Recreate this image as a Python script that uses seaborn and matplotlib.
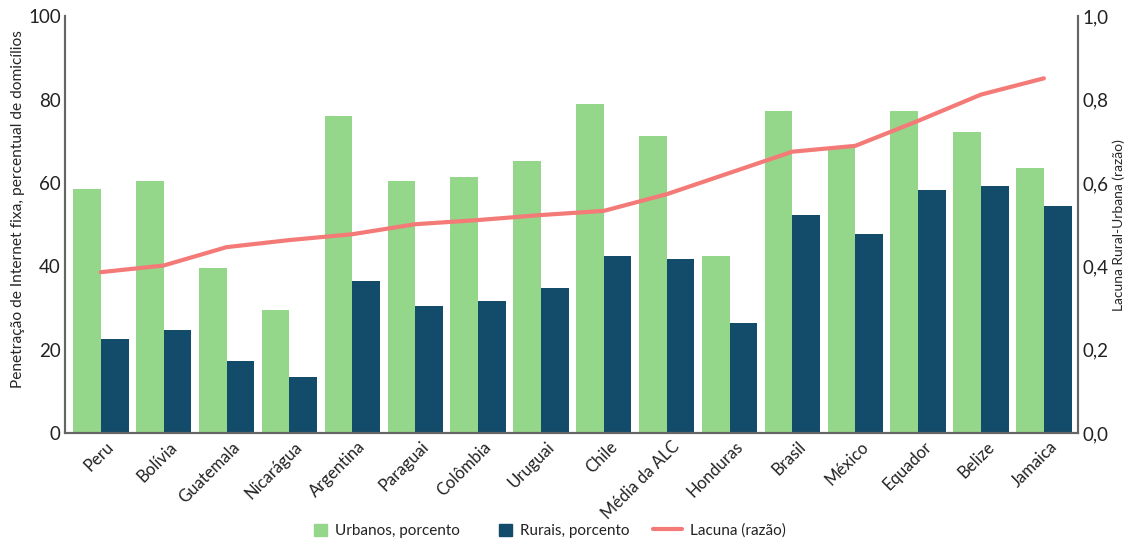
import numpy as np
import pandas as pd
import seaborn as sns
import matplotlib.pyplot as plt
from matplotlib.patches import Patch
from matplotlib.lines import Line2D
from matplotlib.legend_handler import HandlerLine2D
from matplotlib.ticker import FuncFormatter
from matplotlib.transforms import ScaledTranslation

countries = ['Peru', 'Bolívia', 'Guatemala', 'Nicarágua', 'Argentina', 'Paraguai', 'Colômbia',
             'Uruguai', 'Chile', 'Média da ALC', 'Honduras', 'Brasil', 'México', 'Equador',
             'Belize', 'Jamaica']
urbanos = [58.5, 60.5, 39.5, 29.6, 76.1, 60.5, 61.4, 65.3, 79.0, 71.3, 42.4, 77.3, 68.4, 77.3, 72.3, 63.6]
rurais = [22.6, 24.8, 17.3, 13.5, 36.4, 30.4, 31.6, 34.7, 42.4, 41.7, 26.5, 52.3, 47.7, 58.3, 59.3, 54.5]
lacuna = [0.386, 0.402, 0.446, 0.463, 0.477, 0.501, 0.511, 0.523, 0.533, 0.573, 0.624, 0.675,
          0.689, 0.749, 0.812, 0.851]

c_urb = '#94d68a'
c_rur = '#134b6a'
c_lac = '#f47a78'
c_axis = '#666666'


# line handle in the legend is longer than the square patches
class LongLine(HandlerLine2D):
    def create_artists(self, legend, orig_handle, xdescent, ydescent, width, height, fontsize, trans):
        ext = 1.05 * fontsize
        return super().create_artists(legend, orig_handle, xdescent + ext, ydescent,
                                      width + ext, height, fontsize, trans)


sns.set_style("white")
plt.rcParams['font.family'] = ['Lato', 'DejaVu Sans']
plt.rcParams['text.color'] = '#222222'
plt.rcParams['xtick.color'] = '#222222'
plt.rcParams['ytick.color'] = '#222222'

df = pd.DataFrame({'pais': countries * 2,
                   'valor': urbanos + rurais,
                   'serie': ['Urbanos, porcento'] * len(countries) + ['Rurais, porcento'] * len(countries)})

fig, ax = plt.subplots(figsize=(11.31, 5.40), dpi=100)
fig.subplots_adjust(left=0.0575, right=0.953, top=0.97, bottom=0.198)

sns.barplot(data=df, x='pais', y='valor', hue='serie', palette=[c_urb, c_rur],
            width=0.88, gap=0, saturation=1, linewidth=0, legend=False, ax=ax)
ax.set_xlim(-0.57, len(countries) - 0.46)
ax.set_ylim(0, 100)
ax.set_yticks(range(0, 101, 20))
ax.set_xlabel('')
ax.set_ylabel('Penetração de Internet fixa, percentual de domicílios', fontsize=11.2)
ax.yaxis.set_label_coords(-0.0395, 0.537)
ax.tick_params(axis='y', labelsize=13.5, length=0, pad=3)
ax.tick_params(axis='x', labelsize=12, length=0, pad=4)
shift = ScaledTranslation(0.05, 0, fig.dpi_scale_trans)
for lab in ax.get_xticklabels():
    lab.set_rotation(45)
    lab.set_ha('right')
    lab.set_rotation_mode('anchor')
    lab.set_transform(lab.get_transform() + shift)

ax2 = ax.twinx()
sns.lineplot(x=np.arange(len(countries)), y=lacuna, color=c_lac, linewidth=3, ax=ax2)
ax2.set_ylim(0, 1.0)
ax2.set_yticks(np.arange(0, 1.01, 0.2))
ax2.yaxis.set_major_formatter(FuncFormatter(lambda v, p: f'{v:.1f}'.replace('.', ',')))
ax2.set_ylabel('Lacuna Rural-Urbana (razão)', fontsize=10)
ax2.yaxis.set_label_coords(1.0345, 0.5)
ax2.tick_params(axis='y', labelsize=13.5, length=0, pad=3)

for a in (ax, ax2):
    a.spines['top'].set_visible(False)
    for s in ('left', 'right', 'bottom'):
        a.spines[s].set_color(c_axis)
        a.spines[s].set_linewidth(1.5)

line_handle = Line2D([], [], color=c_lac, linewidth=3, label='Lacuna (razão)')
handles = [Patch(color=c_urb, label='Urbanos, porcento'),
           Patch(color=c_rur, label='Rurais, porcento'),
           line_handle]
fig.legend(handles=handles, loc='center', bbox_to_anchor=(0.486, 0.017), ncol=3,
           frameon=False, fontsize=11, handlelength=0.85, handleheight=0.85,
           handletextpad=0.5, columnspacing=2.6,
           handler_map={line_handle: LongLine()})

fig.savefig('out.png', dpi=100)
